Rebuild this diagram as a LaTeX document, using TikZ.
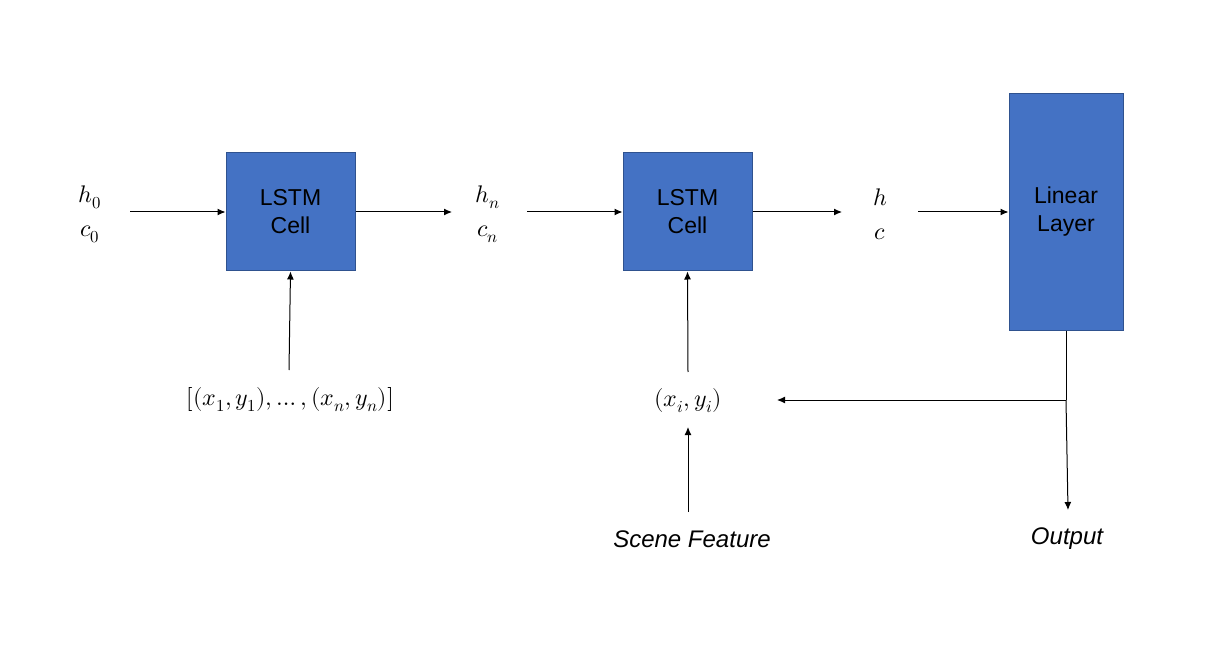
\documentclass[tikz,border=0pt]{standalone}
\usepackage{fontspec}
\setmainfont{Liberation Sans}
\usepackage{unicode-math}
\usetikzlibrary{arrows.meta,positioning}
\definecolor{boxfill}{HTML}{4472C4}
\definecolor{boxline}{HTML}{2F528F}
\tikzset{
  cell/.style={draw=boxline, fill=boxfill, line width=1pt, text=black, align=center,
    font=\fontsize{23}{28}\selectfont},
  lbl/.style={align=center, font=\fontsize{24}{34}\selectfont},
  arr/.style={-{Latex[length=8pt,width=7pt]}, line width=1pt}
}
\begin{document}
\begin{tikzpicture}[x=1pt,y=-1pt]
  \useasboundingbox (0,0) rectangle (1232,647);
  % blocks
  \node[cell, minimum width=129pt, minimum height=118pt] (lstmA) at (290.5,212) {LSTM\\Cell};
  \node[cell, minimum width=129pt, minimum height=118pt] (lstmB) at (687.5,212) {LSTM\\Cell};
  \node[cell, minimum width=114pt, minimum height=236pt] (lin) at (1066,212) {Linear\\Layer};
  % states
  \node[lbl] (s0) at (90,214) {$h_0$\\$c_0$};
  \node[lbl] (sn) at (488,214) {$h_n$\\$c_n$};
  \node[lbl] (sh) at (880,214) {$h$\\$c$};
  % inputs
  \node[lbl] (seq) at (290,400) {$[(x_1,y_1),\ldots,(x_n,y_n)]$};
  \node[lbl] (xy) at (688,401) {$(x_i,y_i)$};
  \node[lbl] (scene) at (692,539) {$\mathit{Scene\ Feature}$};
  \node[lbl] (out) at (1067,539) {$\mathit{Output}$};
  % connectors
  \draw[arr] (130,212) -- (lstmA.west);
  \draw[arr] (lstmA.east) -- (452,212);
  \draw[arr] (527,212) -- (lstmB.west);
  \draw[arr] (lstmB.east) -- (842,212);
  \draw[arr] (918,212) -- (lin.west);
  \draw[arr] (289,370) -- (lstmA.south);
  \draw[arr] (688,372) -- (lstmB.south);
  \draw[arr] (688,512) -- (688,427);
  \coordinate (split) at (1066,400);
  \draw[line width=1pt] (lin.south) -- (split);
  \draw[arr] (split) -- (777,400);
  \draw[arr] (split) -- (1068,510);
\end{tikzpicture}
\end{document}
